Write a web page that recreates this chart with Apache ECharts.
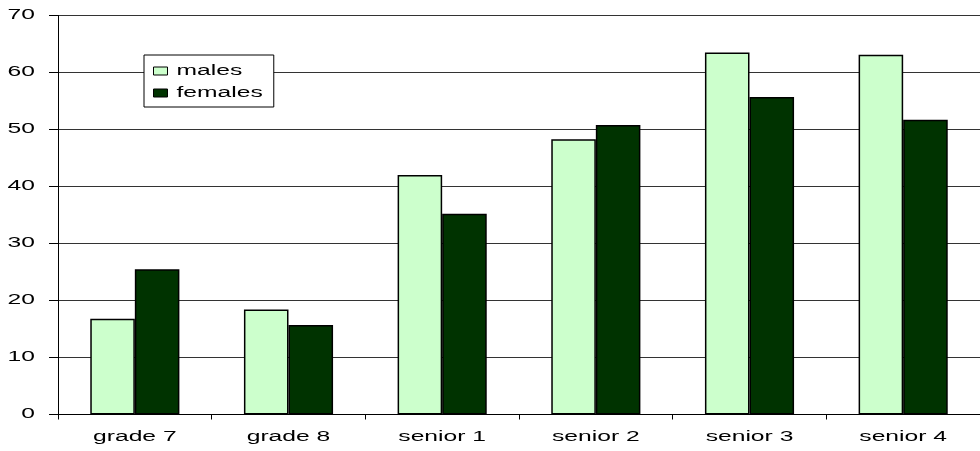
<!DOCTYPE html>
<html>
<head>
<meta charset="utf-8">
<style>
  html, body { margin: 0; padding: 0; background: #fff; }
  #chart { width: 980px; height: 451px; }
</style>
<script src="https://cdn.jsdelivr.net/npm/echarts@6/dist/echarts.min.js"></script>
</head>
<body>
<div id="chart"></div>
<script>
// Categories and values
const categories = ['grade 7', 'grade 8', 'senior 1', 'senior 2', 'senior 3', 'senior 4'];
const males   = [16.8, 18.4, 42.0, 48.3, 63.5, 63.1];
const females = [25.5, 15.7, 35.2, 50.8, 55.7, 51.7];
const seriesNames = ['males', 'females'];

// Wide, horizontally stretched lettering: scale Latin glyphs around their
// anchor and report the stretched width so layout (legend box etc.) accounts
// for it. Non-ASCII probes (used internally for line height) stay unscaled.
const TEXT_STRETCH = 1.76;
(function () {
  const proto = CanvasRenderingContext2D.prototype;
  const origFill = proto.fillText;
  const origMeasure = proto.measureText;
  const isLatin = t => /^[\x00-\x7F]*$/.test(String(t));
  proto.fillText = function (t, x, y, maxW) {
    if (!isLatin(t)) {
      return maxW === undefined ? origFill.call(this, t, x, y) : origFill.call(this, t, x, y, maxW);
    }
    this.save();
    this.translate(x, y);
    this.scale(TEXT_STRETCH, 1);
    if (maxW === undefined) origFill.call(this, t, 0, 0);
    else origFill.call(this, t, 0, 0, maxW / TEXT_STRETCH);
    this.restore();
  };
  proto.measureText = function (t) {
    const m = origMeasure.call(this, t);
    if (!isLatin(t)) return m;
    return {
      width: m.width * TEXT_STRETCH,
      actualBoundingBoxAscent: m.actualBoundingBoxAscent,
      actualBoundingBoxDescent: m.actualBoundingBoxDescent,
      actualBoundingBoxLeft: m.actualBoundingBoxLeft * TEXT_STRETCH,
      actualBoundingBoxRight: m.actualBoundingBoxRight * TEXT_STRETCH,
      fontBoundingBoxAscent: m.fontBoundingBoxAscent,
      fontBoundingBoxDescent: m.fontBoundingBoxDescent
    };
  };
})();

const FONT = '"Liberation Sans", Arial, sans-serif';
const chart = echarts.init(document.getElementById('chart'), null, { renderer: 'canvas' });

chart.setOption({
  animation: false,
  backgroundColor: '#ffffff',
  textStyle: { fontFamily: FONT, color: '#000' },
  grid: { left: 58, top: 15.5, width: 930, bottom: 36.5, containLabel: false },
  legend: {
    data: seriesNames,
    orient: 'vertical',
    left: 144,
    top: 55,
    padding: [9, 11, 7, 9],
    itemGap: 8,
    itemWidth: 14,
    itemHeight: 8,
    icon: 'rect',
    borderColor: '#000',
    borderWidth: 1,
    borderRadius: 0,
    backgroundColor: '#fff',
    textStyle: { fontFamily: FONT, fontSize: 14, color: '#000', padding: [0, 0, 0, 4] },
    itemStyle: { borderColor: '#000', borderWidth: 1 }
  },
  xAxis: {
    type: 'category',
    data: categories,
    boundaryGap: true,
    axisLine: { show: true, lineStyle: { color: '#000', width: 1 } },
    axisTick: { show: true, length: 5, inside: false, lineStyle: { color: '#000' } },
    axisLabel: { fontFamily: FONT, fontSize: 14, color: '#000', margin: 16 },
    splitLine: { show: false }
  },
  yAxis: {
    type: 'value',
    min: 0,
    max: 70,
    interval: 10,
    axisLine: { show: true, lineStyle: { color: '#000', width: 1 } },
    axisTick: { show: true, length: 9, lineStyle: { color: '#000' } },
    axisLabel: { fontFamily: FONT, fontSize: 14, color: '#000', margin: 23 },
    splitLine: { show: true, lineStyle: { color: '#333', width: 1 } }
  },
  series: [
    {
      name: seriesNames[0],
      type: 'bar',
      data: males,
      barGap: '0%',
      barCategoryGap: '42%',
      itemStyle: { color: '#CCFFCC', borderColor: '#000', borderWidth: 1.5 }
    },
    {
      name: seriesNames[1],
      type: 'bar',
      data: females,
      barGap: '0%',
      barCategoryGap: '42%',
      itemStyle: { color: '#003300', borderColor: '#000', borderWidth: 1.5 }
    }
  ]
});
</script>
</body>
</html>
